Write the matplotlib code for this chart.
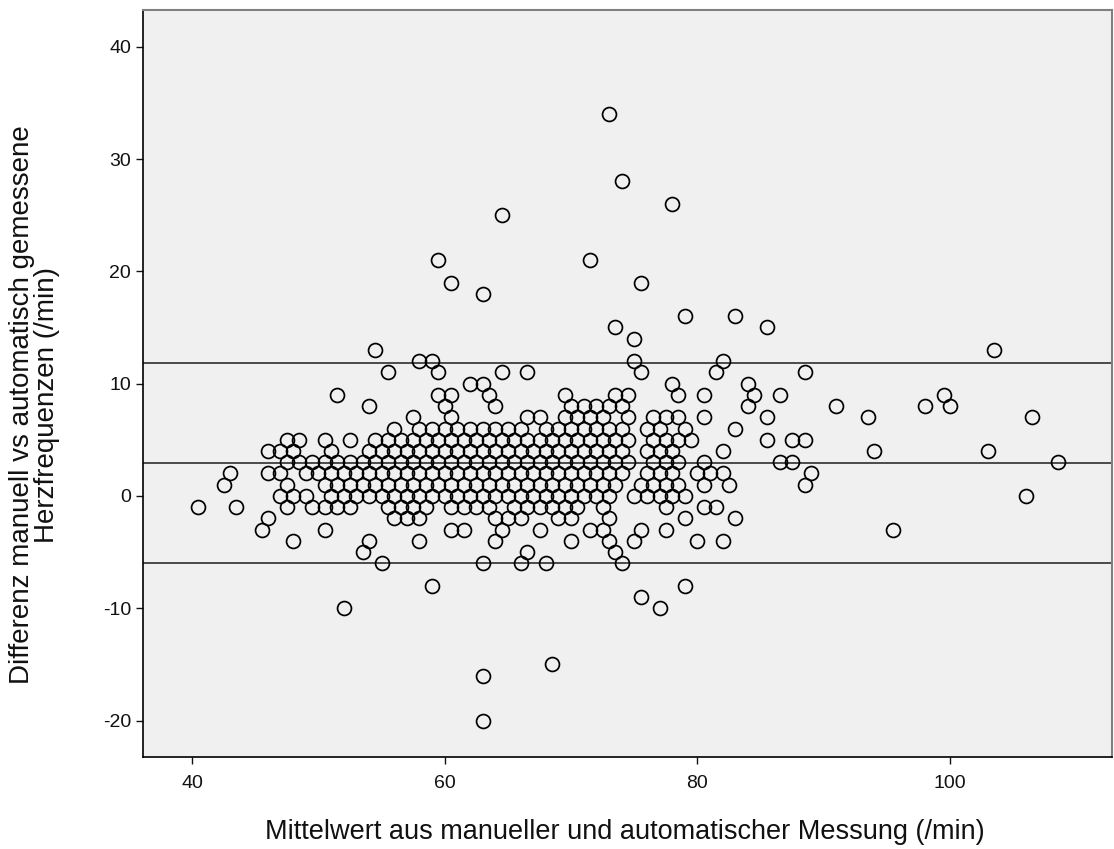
import numpy as np
import matplotlib
matplotlib.use("Agg")
from matplotlib import pyplot as plt

# Bland-Altman plot: manual vs automatic heart rate
# each row = all points with that difference (y), x = mean of both measurements
row_y = [34, 28, 26, 25, 21, 19, 18, 16, 15, 14, 13, 12, 11, 10, 9, 8, 7, 6, 5, 4, 3, 2, 1, 0,
         -1, -2, -3, -4, -5, -6, -8, -9, -10, -15, -16, -20]

row_x = [
    [73],                                             # 34
    [74],                                             # 28
    [78],                                             # 26
    [64.5],                                           # 25
    [59.5, 71.5],                                     # 21
    [60.5, 75.5],                                     # 19
    [63],                                             # 18
    [79, 83],                                         # 16
    [73.5, 85.5],                                     # 15
    [75],                                             # 14
    [54.5, 103.5],                                    # 13
    [58, 59, 75, 82],                                 # 12
    [55.5, 59.5, 64.5, 66.5, 75.5, 81.5, 88.5],       # 11
    [62, 63, 78, 84],                                 # 10
    [51.5, 59.5, 60.5, 63.5, 69.5, 73.5, 74.5, 78.5, 80.5, 84.5, 86.5, 99.5],   # 9
    [54, 60, 64, 70, 71, 72, 73, 74, 84, 91, 98, 100],                          # 8
    [57.5, 60.5, 66.5, 67.5, 69.5, 70.5, 71.5, 72.5, 74.5, 76.5, 77.5, 78.5,
     80.5, 85.5, 93.5, 106.5],                                                  # 7
    [56, 58, 59, 60, 61, 62, 63, 64, 65, 66, 68, 69, 70, 71, 72, 73, 74, 76, 77,
     79, 83],                                                                   # 6
    [47.5, 48.5, 50.5, 52.5, 54.5, 55.5, 56.5, 57.5, 58.5, 59.5, 60.5, 61.5,
     62.5, 63.5, 64.5, 65.5, 66.5, 67.5, 68.5, 69.5, 70.5, 71.5, 72.5, 73.5,
     74.5, 76.5, 77.5, 78.5, 79.5, 85.5, 87.5, 88.5],                           # 5
    [46, 47, 48, 51, 54, 55, 56, 57, 58, 59, 60, 61, 62, 63, 64, 65, 66, 67, 68,
     69, 70, 71, 72, 73, 74, 76, 77, 78, 82, 94, 103],                          # 4
    [47.5, 48.5, 49.5, 50.5, 51.5, 52.5, 53.5, 54.5, 55.5, 56.5, 57.5, 58.5,
     59.5, 60.5, 61.5, 62.5, 63.5, 64.5, 65.5, 66.5, 67.5, 68.5, 69.5, 70.5,
     71.5, 72.5, 73.5, 74.5, 76.5, 77.5, 78.5, 80.5, 86.5, 87.5, 108.5],        # 3
    [43, 46, 47, 49, 50, 51, 52, 53, 54, 55, 56, 57, 58, 59, 60, 61, 62, 63, 64,
     65, 66, 67, 68, 69, 70, 71, 72, 73, 74, 76, 77, 78, 80, 81, 82, 89],       # 2
    [42.5, 47.5, 50.5, 51.5, 52.5, 53.5, 54.5, 55.5, 56.5, 57.5, 58.5, 59.5,
     60.5, 61.5, 62.5, 63.5, 64.5, 65.5, 66.5, 67.5, 68.5, 69.5, 70.5, 71.5,
     72.5, 73.5, 75.5, 76.5, 77.5, 78.5, 80.5, 82.5, 88.5],                     # 1
    [47, 48, 49, 51, 52, 53, 54, 55, 56, 57, 58, 59, 60, 61, 62, 63, 64, 65, 66,
     67, 68, 69, 70, 71, 72, 73, 75, 76, 77, 78, 79, 106],                      # 0
    [40.5, 43.5, 47.5, 49.5, 50.5, 51.5, 52.5, 55.5, 56.5, 57.5, 58.5, 60.5,
     61.5, 62.5, 63.5, 65.5, 66.5, 67.5, 68.5, 69.5, 70.5, 72.5, 77.5, 80.5,
     81.5],                                                                     # -1
    [46, 56, 57, 58, 64, 65, 66, 69, 70, 73, 79, 83],                           # -2
    [45.5, 50.5, 60.5, 61.5, 64.5, 67.5, 71.5, 72.5, 75.5, 77.5, 95.5],         # -3
    [48, 54, 58, 64, 70, 73, 75, 80, 82],                                       # -4
    [53.5, 66.5, 73.5],                                                         # -5
    [55, 63, 66, 68, 74],                                                       # -6
    [59, 79],                                                                   # -8
    [75.5],                                                                     # -9
    [52, 77],                                                                   # -10
    [68.5],                                                                     # -15
    [63],                                                                       # -16
    [63],                                                                       # -20
]

mean_diff = 2.97
upper_loa = 11.87
lower_loa = -5.93

x = np.concatenate([np.array(r, dtype=float) for r in row_x])
y = np.concatenate([np.full(len(r), v, dtype=float) for r, v in zip(row_x, row_y)])

plt.rcParams['font.family'] = ['Liberation Sans', 'DejaVu Sans']

fig = plt.figure(figsize=(11.14, 8.49), dpi=100)
ax = fig.add_axes([0.1284, 0.1084, 0.870, 0.880])
ax.set_facecolor('#f0f0f0')

for v in (upper_loa, mean_diff, lower_loa):
    ax.axhline(v, color='#4a4a4a', lw=1.4, zorder=1)

ax.plot(x, y, 'o', ms=10, mfc='none', mec='black', mew=1.25, zorder=2)

ax.set_xlim(36.12, 112.83)
ax.set_ylim(-23.24, 43.28)
ax.set_xticks([40, 60, 80, 100])
ax.set_yticks([-20, -10, 0, 10, 20, 30, 40])
ax.set_yticklabels(['-20', '-10', '0', '10', '20', '30', '40'])
ax.tick_params(axis='both', direction='out', length=5, width=1, labelsize=14, colors='#111111')
ax.tick_params(axis='x', pad=8)

for s in ('top', 'right'):
    ax.spines[s].set_color('#808080')
    ax.spines[s].set_linewidth(1.5)
for s in ('left', 'bottom'):
    ax.spines[s].set_color('black')
    ax.spines[s].set_linewidth(1.2)

ax.set_xlabel('Mittelwert aus manueller und automatischer Messung (/min)', fontsize=19.5,
              color='#111111')
ax.set_ylabel('Differenz manuell vs automatisch gemessene\nHerzfrequenzen (/min)',
              fontsize=20, linespacing=0.95, color='#111111')
ax.xaxis.set_label_coords(0.497, -0.083)
ax.yaxis.set_label_coords(-0.086, 0.471)

fig.savefig('out.png', dpi=100)
